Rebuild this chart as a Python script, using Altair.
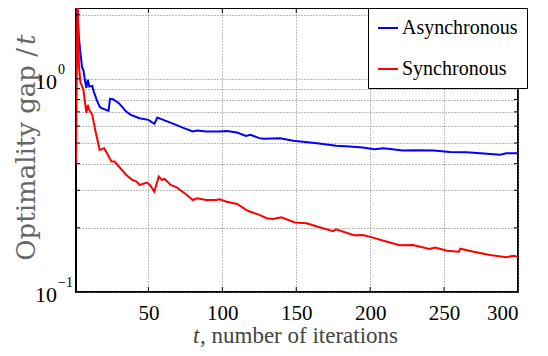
import altair as alt
import pandas as pd

# ---- data ----
async_t = [1, 2, 3, 5, 6, 7, 8, 9, 10, 12, 13, 15, 17, 18, 23, 24, 26, 30, 35, 38, 44, 50, 54, 56, 60, 67, 74,
           80, 83, 89, 98, 103, 110, 116, 119, 125, 128, 139, 148, 164, 177, 186, 195, 203, 209, 222, 231,
           243, 254, 265, 277, 288, 292, 300]
async_v = [2.8, 2.0, 1.55, 1.14, 1.10, 0.99, 0.907, 0.99, 0.92, 0.927, 0.872, 0.797, 0.741, 0.731, 0.708,
           0.806, 0.803, 0.769, 0.702, 0.678, 0.654, 0.642, 0.615, 0.658, 0.642, 0.615, 0.587, 0.566, 0.572,
           0.566, 0.566, 0.570, 0.560, 0.540, 0.546, 0.527, 0.523, 0.527, 0.512, 0.499, 0.486, 0.481, 0.476,
           0.468, 0.473, 0.461, 0.463, 0.461, 0.454, 0.453, 0.446, 0.441, 0.448, 0.448]

sync_t = [1, 2, 3, 4, 5, 6, 8, 9, 10, 12, 14, 16, 17, 20, 22, 25, 27, 30, 35, 39, 42, 44, 49, 51, 54, 57,
          59, 61, 65, 69, 76, 80, 83, 89, 96, 98, 103, 110, 116, 119, 125, 130, 134, 140, 149, 157, 164,
          175, 177, 189, 195, 202, 209, 220, 229, 240, 244, 252, 260, 261, 270, 281, 292, 297, 300]
sync_v = [0.403, 2.6, 1.15, 0.958, 0.93, 0.888, 0.692, 0.755, 0.715, 0.678, 0.576, 0.499, 0.464, 0.473,
          0.448, 0.409, 0.409, 0.388, 0.354, 0.336, 0.330, 0.318, 0.326, 0.318, 0.296, 0.348, 0.336, 0.339,
          0.318, 0.310, 0.285, 0.270, 0.275, 0.270, 0.270, 0.272, 0.265, 0.259, 0.243, 0.238, 0.230, 0.222,
          0.220, 0.224, 0.212, 0.210, 0.203, 0.193, 0.197, 0.1846, 0.185, 0.180, 0.174, 0.1657, 0.166,
          0.159, 0.1615, 0.156, 0.1545, 0.1597, 0.1545, 0.149, 0.1455, 0.148, 0.1465]

series_names = ["Asynchronous", "Synchronous"]
series_colors = ["#0000ff", "#ff0000"]

x_ticks = [50, 100, 150, 200, 250, 300]
y_grid = [0.1, 0.2, 0.3, 0.4, 0.5, 0.6, 0.7, 0.8, 0.9, 1, 2]
y_major = [0.1, 1]
y_exps = ["\u22121", "0"]

W, H = 442, 284
SERIF = "Liberation Serif"

df = pd.concat([
    pd.DataFrame({"t": async_t, "v": async_v, "series": series_names[0]}),
    pd.DataFrame({"t": sync_t, "v": sync_v, "series": series_names[1]}),
])

xscale = alt.Scale(domain=[1, 300], nice=False, zero=False)
yscale = alt.Scale(type="log", domain=[0.1, 2.15], nice=False)

lines = alt.Chart(df).mark_line(strokeWidth=2, clip=True).encode(
    x=alt.X("t:Q", scale=xscale, axis=alt.Axis(
        values=x_ticks, grid=True, gridDash=[1, 2], gridColor="#777", gridWidth=1,
        tickSize=0, domain=False, labelFont=SERIF, labelFontSize=21, labelColor="black",
        labelPadding=10, title=None)),
    y=alt.Y("v:Q", scale=yscale, axis=alt.Axis(
        values=y_grid, grid=True, gridDash=[1, 2], gridColor="#777", gridWidth=1,
        tickSize=0, domain=False, labels=False, title=None)),
    color=alt.Color("series:N", scale=alt.Scale(domain=series_names, range=series_colors),
                    legend=alt.Legend(title=None, orient="none", legendX=292, legendY=0)),
)

xt_df = pd.DataFrame({"t": x_ticks[:-1]})
xticks_bottom = alt.Chart(xt_df).mark_rule(color="black", strokeWidth=1).encode(
    x=alt.X("t:Q", scale=xscale), y=alt.value(H), y2=alt.value(H - 5))
xticks_top = alt.Chart(xt_df).mark_rule(color="black", strokeWidth=1).encode(
    x=alt.X("t:Q", scale=xscale), y=alt.value(0), y2=alt.value(5))

yt_df = pd.DataFrame({"v": y_grid[1:]})
yticks_left = alt.Chart(yt_df).mark_rule(color="black", strokeWidth=1).encode(
    y=alt.Y("v:Q", scale=yscale), x=alt.value(0), x2=alt.value(4))
yticks_right = alt.Chart(yt_df).mark_rule(color="black", strokeWidth=1).encode(
    y=alt.Y("v:Q", scale=yscale), x=alt.value(W - 4), x2=alt.value(W))

ylab_df = pd.DataFrame({"v": y_major, "e": y_exps, "base": ["10", "10"]})
ylab_base = alt.Chart(ylab_df).mark_text(
    font=SERIF, fontSize=22, align="right", baseline="middle", dy=3, color="black").encode(
    y=alt.Y("v:Q", scale=yscale), x=alt.value(-19), text="base:N")
ylab_exp = alt.Chart(ylab_df).mark_text(
    font=SERIF, fontSize=14, align="left", baseline="middle", dy=-9, color="black").encode(
    y=alt.Y("v:Q", scale=yscale), x=alt.value(-18), text="e:N")

xtitle_t = alt.Chart(pd.DataFrame({"s": ["t"]})).mark_text(
    font=SERIF, fontSize=23, fontStyle="italic", align="left", baseline="alphabetic", color="#444"
).encode(x=alt.value(117), y=alt.value(335), text="s:N")
xtitle_rest = alt.Chart(pd.DataFrame({"s": [", number of iterations"]})).mark_text(
    font=SERIF, fontSize=23, align="left", baseline="alphabetic", color="#444"
).encode(x=alt.value(124), y=alt.value(335), text="s:N")

ytitle_main = alt.Chart(pd.DataFrame({"s": ["Optimality gap /"]})).mark_text(
    font="DejaVu Serif", fontSize=26, angle=270, align="right", baseline="middle", color="#666"
).encode(x=alt.value(-49), y=alt.value(40), text="s:N")
ytitle_t = alt.Chart(pd.DataFrame({"s": ["t"]})).mark_text(
    font="DejaVu Serif", fontSize=26, fontStyle="italic", angle=270, align="left", baseline="middle",
    color="#666"
).encode(x=alt.value(-49), y=alt.value(37), text="s:N")

chart = alt.layer(
    lines, xticks_bottom, xticks_top, yticks_left, yticks_right,
    ylab_base, ylab_exp, xtitle_t, xtitle_rest, ytitle_main, ytitle_t
).properties(
    width=W, height=H,
    autosize=alt.AutoSizeParams(type="none"),
    padding={"left": 68, "top": 0, "right": 22, "bottom": 56},
).configure_view(
    stroke="black", strokeWidth=2
).configure_legend(
    strokeColor="black", fillColor="white", cornerRadius=0, padding=9,
    symbolType="stroke", symbolSize=400, symbolStrokeWidth=2,
    labelFont=SERIF, labelFontSize=20, labelColor="black", rowPadding=20, labelOffset=3
)

chart.save("out.html", embed_options={"renderer": "svg", "actions": False})
